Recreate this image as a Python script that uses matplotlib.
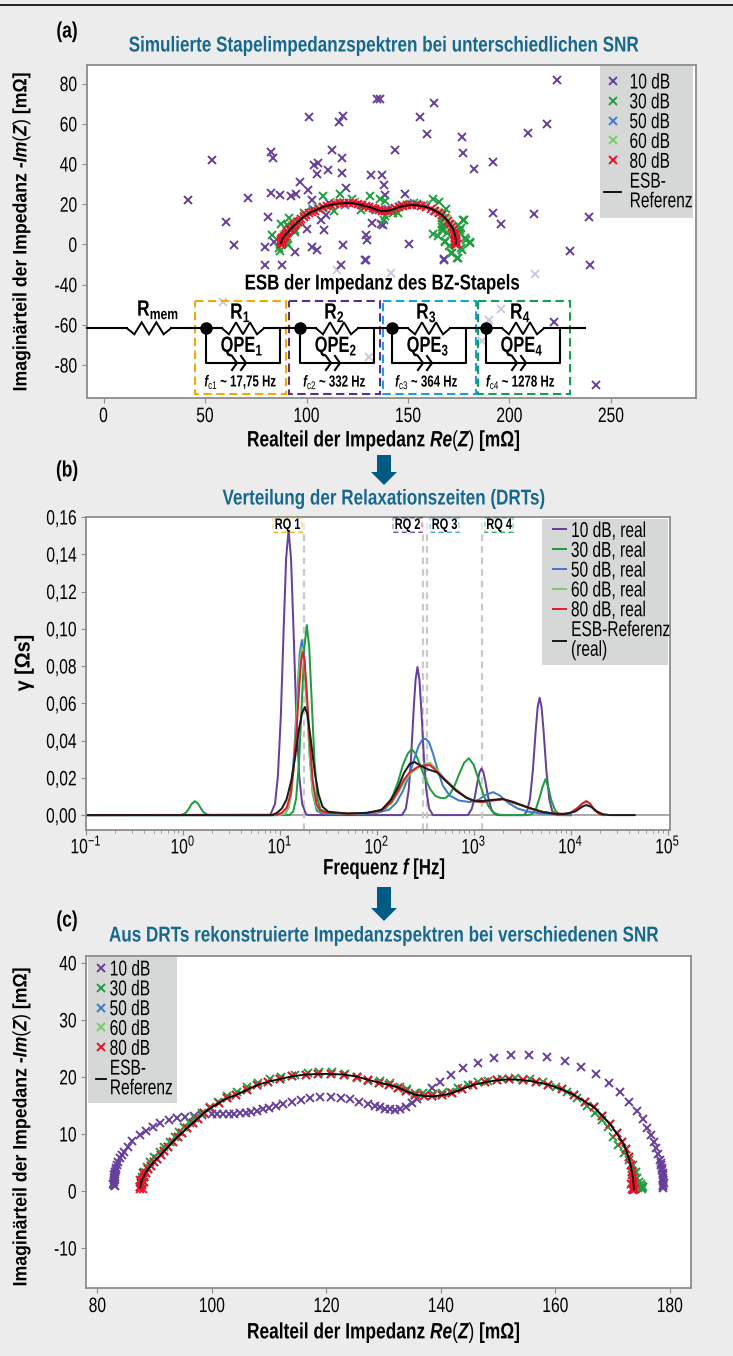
"""
    DRT / Impedanz Abbildung mit drei Panels.
"""
import numpy as np
import matplotlib
matplotlib.use('Agg')
import matplotlib.pyplot as plt
from matplotlib.patches import Rectangle, Polygon
from matplotlib.patheffects import AbstractPathEffect
from matplotlib.transforms import Affine2D

FONT = 'Liberation Sans'
plt.rcParams['font.family'] = [FONT, 'DejaVu Sans']
plt.rcParams['mathtext.fontset'] = 'custom'
plt.rcParams['mathtext.rm'] = FONT
plt.rcParams['mathtext.it'] = FONT + ':italic:bold'
plt.rcParams['mathtext.bf'] = FONT + ':bold'

W, H = 733, 1356
BG = '#ececec'
C10, C30, C50, C60, C80 = '#67409b', '#1f9e3e', '#3e7cc9', '#7cc96a', '#e8142a'
TEAL = '#16688f'
ARROW = '#005b84'
GRAY_BOX = '#d6d8d7'
SPINE = '#8c8c8c'

# panel (a), 10 dB raw points
re_a_10 = [41.6, 53.4, 60.5, 64.4, 71, 79.4, 79.4, 87.7, 80.8, 82.4, 87, 92.3, 94.6, 82.6, 83.3, 96.7, 100.6, 102.9,
           101.2, 118, 116.2, 112.6, 117.4, 103.6, 105.9, 105, 110.5, 117.4, 119.7, 132, 137.4, 138, 138.9, 148.7,
           134.5, 136, 162.6, 155.8, 159.5, 176.4, 177, 182.3, 192, 143.6, 209.3, 218.3, 223.6, 192, 195.7, 212,
           239.2, 230, 239.7, 100.2, 108.4, 107.3, 109.8, 132.4, 136.5, 137.9, 129.2, 129.8, 118.1, 102.9, 105.2,
           94.4, 150.6, 167.6, 129.2, 117.2, 84, 128.9, 167.9, 221.7, 242.4]
im_a_10 = [22.2, 42, 11.4, -0.2, 22.9, -1.2, -10.3, -10.4, 13.6, 25.5, 24.5, 24.2, 25.2, 46, 42.8, 31, 27, 22,
           63.2, 63.8, 60.9, 46.9, 42.8, 39.3, 40.3, 34.8, 36.8, 35.7, 27.9, 34.7, 34.7, 29.4, 24.7, 25.2,
           72.5, 72.5, 70.5, 63.2, 55, 53.6, 45.6, 37.6, 41, 47, 55.6, 60, 82, 15.8, 10, 15,
           13.6, -3.2, -10, 7.6, 7.3, 12, 14.8, 10.8, 10.4, 9.6, 4.5, 2.3, -0.2, -1.2, -3,
           -3.8, 0.2, -7.5, -7.8, -10.1, 1, -7.8, -7.8, -38.6, -69.7]
re_a_10_faint = [114.8, 141.4, 212.7, 59, 196, 190, 131, 186.5]
im_a_10_faint = [-12.9, -14.4, -14.9, -28.7, -32.3, -37.8, -56, -47.8]

# panel (a), 30 dB raw points
re_a_30 = [108.2, 116.7, 122.5, 131.2, 136, 138.8, 145, 138.6, 138.1, 142.7, 151.2, 162.3, 165.3, 168.5, 166.9, 166.9,
           162.3, 164.6, 168, 171, 174.5, 176.1, 175.4, 177.3, 176.1, 180.7, 178.4, 170.4, 82.8, 86.5, 87, 87.4,
           90.2, 91.4, 90.9, 87.4, 94.4, 98.9, 103.1, 108.2, 113.3, 126.6, 154.2, 166.9, 168, 94.3, 90.2, 89.4,
           92.7, 95.2, 166.6, 169, 168.2, 171.5, 174.3, 176.5, 180.5, 178, 175.6, 177.7, 174.8]
im_a_30 = [24.2, 25, 22.7, 24.2, 22.6, 21.4, 15.6, 13.9, 12.3, 15.6, 20.2, 22.6, 21.1, 17.7, 10.3, 7.3,
           5.1, 4, 1.5, -4.3, -6.8, -1.8, 5.6, 12.3, 8.1, 0.7, 2, -1, 4.8, -1.8, -3.5, 10.3,
           9.8, 13.1, -0.2, 2.3, 7.3, 15.6, 17.2, 18.1, 16.4, 17.2, 20.2, 13.1, 9, 6.4, 0.6, 4.7,
           8.9, 11.3, 8.9, 5.6, 1.4, -4.1, -6.9, -2.7, 1.4, 3.1, 7.2, 12.2, 9.7]
re_a_50 = [90.5, 96, 103, 111, 119, 127, 134, 140, 147, 153, 158, 163, 167, 170, 172.5]
im_a_50 = [6.5, 11, 17.5, 20.6, 19.8, 19.8, 17, 17.4, 19.8, 20.8, 19.6, 16.5, 14.5, 10, 5]
re_a_60 = [89, 93, 99, 105, 115, 124, 131, 139, 146, 152, 159, 165, 169, 171, 173]
im_a_60 = [4.5, 9.7, 14.2, 18.6, 21, 20.9, 18, 17.6, 19.3, 20, 19.4, 16.1, 12.6, 9.5, 3.5]

# near noise-free spectrum, used for ESB and for 50/60/80 dB
re_esb = [87.47, 87.59, 87.76, 88.06, 88.41, 88.81, 89.28, 89.8, 90.38, 91.02, 91.66, 92.36, 93.12, 94, 94.81, 95.63,
          96.62, 97.49, 98.53, 99.7, 101.15, 102.6, 104.24, 106.1, 107.96, 109.88, 111.92, 114.07, 116.4, 118.61,
          120.82, 123.1, 125.3, 127.34, 129.2, 130.95, 132.58, 133.92, 135.49, 137.06, 138.52, 140.15, 141.89,
          143.76, 145.68, 147.65, 149.75, 151.96, 154.29, 156.62, 158.77, 161.1, 163.25, 165.17, 166.75, 168.2,
          169.54, 170.7, 171.69, 172.33, 172.8, 173.15, 173.38, 173.56, 173.67, 173.73]
im_esb = [0.64, 1.35, 1.93, 2.51, 3.22, 3.8, 4.39, 5.03, 5.67, 6.32, 7.02, 7.78, 8.6, 9.53, 10.23, 11.05,
          11.87, 12.69, 13.63, 14.5, 15.38, 16.26, 16.84, 17.72, 18.6, 19.18, 19.65, 20.12, 20.41, 20.53,
          20.53, 20.41, 20.06, 19.47, 19.0, 18.6, 18.13, 17.49, 16.9, 16.67, 16.61, 16.78, 17.13,
          17.89, 18.6, 19.06, 19.42, 19.59, 19.47, 19.12, 18.65, 17.84, 16.84, 15.67, 14.68, 13.22,
          11.75, 10.12, 8.65, 7.37, 5.91, 4.56, 3.39, 2.22, 1.05, 0.3]
# extra 80 dB points piled up at both ends of the arc
re_80_ends = [87.5, 87.9, 87.7, 88.1, 87.5, 88, 173.9, 173.4, 173.7, 173.45, 173.3, 173.6]
im_80_ends = [0.3, 0.4, 1, 1.5, 2, 3.2, 0.4, 0.4, 1.6, 2.8, 1.2, 0.2]

# panel (c), reconstructed spectra
re_c_10 = [82.82, 82.82, 82.88, 82.93, 83.05, 83.17, 83.34, 83.57, 83.86, 84.21, 84.68, 85.32, 86.02, 87.47, 88.46,
           89.63, 90.97, 92.42, 93.88, 95.33, 96.79, 98.24, 99.99, 100.9, 101.9, 102.9, 103.9, 104.9, 105.93, 106.9,
           107.85, 108.9, 109.89, 111.17, 112.5, 113.96, 115.53, 117.16, 118.91, 120.77, 122.5, 124.15, 125.7, 127.2,
           128.5, 129.4, 130.26, 131.13, 132, 132.87, 133.92, 134.9, 135.9, 138.4, 139.9, 141.83, 143.93, 146.55,
           149.34, 152.25, 155.45, 158.6, 161.68, 164.48, 167.1, 169.37, 171.23, 172.86, 174.2, 175.3, 176.06, 176.7,
           177.22, 177.63, 177.98, 178.27, 178.5, 178.68, 178.74, 178.8, 178.85, 178.87,
           82.8, 83, 82.9, 83.1, 83, 83.2, 178.8, 178.9, 178.8, 178.75, 178.6, 178.4]
im_c_10 = [1.05, 1.64, 2.22, 2.81, 3.39, 3.98, 4.56, 5.15, 5.73, 6.32, 6.9, 7.78, 8.83, 9.82, 10.58,
           11.29, 11.99, 12.46, 12.75, 13.04, 13.22, 13.39, 13.57, 13.57, 13.57, 13.57, 13.57, 13.6, 13.63, 13.8,
           14.04, 14.3, 14.5, 14.91, 15.26, 15.61, 15.96, 16.26, 16.49, 16.55, 16.37, 16.14, 15.67, 15.32,
           14.97, 14.68, 14.44, 14.33, 14.27, 14.33, 14.68, 15.38, 16.14, 18.13, 19.18, 20.35, 21.52, 22.51,
           23.33, 23.8, 23.92, 23.57, 22.87, 21.75, 20.47, 18.95, 17.43, 15.67, 14.09, 12.63, 11.11, 9.82,
           8.65, 7.49, 6.49, 5.44, 4.56, 3.68, 2.81, 1.93, 1.05, 0.5,
           1.3, 0.9, 1.9, 2.5, 3, 3.6, 0.8, 1.4, 2.3, 3.2, 4.1, 5]
re_c_30 = [87.47, 87.59, 87.82, 88.17, 88.64, 89.22, 89.92, 90.85, 91.66, 92.6, 93.47, 94.28, 95.16, 96.09, 97.08, 98.24,
           99.7, 101.04, 102.6, 104.35, 106.2, 108.03, 110.18, 112.1, 114.43, 116.7, 118.79, 121.06, 123.27, 125.3,
           127.34, 129.38, 131.13, 132.87, 134.03, 135.49, 136.94, 138.69, 140.15, 141.6, 143.06, 144.8, 146.4, 148.3,
           150.6, 152.95, 155.57, 157.9, 160.2, 162, 163.7, 165.5, 166.9, 168.1, 169.25, 170.1, 171, 172, 172.9,
           173.6, 174.08, 174.66, 175.1, 175.2, 174.3, 174.9, 175.4, 174.1, 174.5, 173.9, 175.2]
im_c_30 = [0.7, 1.64, 2.51, 3.39, 4.27, 5.15, 5.91, 6.9, 7.78, 8.65, 9.53, 10.41, 11.17, 11.99, 12.75, 13.63,
           14.8, 15.67, 16.73, 17.43, 18.3, 18.89, 19.59, 20.06, 20.35, 20.64, 20.82, 20.88, 20.47, 19.88,
           19.36, 19.36, 18.89, 18.3, 17.89, 17.25, 17.25, 16.96, 17.13, 17.43, 18.13, 18.54, 19.06, 19.35,
           19.59, 19.82, 19.65, 19.06, 18.3, 17.43, 16.26, 14.9, 13.63, 12.45, 11.17, 9.53, 8.07, 6.6, 5.44,
           4.56, 3.39, 1.64, 0.47, 0.9, 2.2, 1.3, 0.76, 1.3, 0.47, 3.1, 0.3]

# panel (b), DRTs
logf_10 = [-1, 0.9, 0.95, 0.98, 1.01, 1.04, 1.065, 1.09, 1.115, 1.14, 1.17, 1.2, 1.23, 1.27, 1.3, 2.26, 2.3, 2.33,
           2.355, 2.38, 2.4, 2.42, 2.44, 2.46, 2.485, 2.51, 2.54, 2.58, 2.94, 2.95, 2.98, 3.01, 3.04, 3.06, 3.08,
           3.1, 3.12, 3.15, 3.18, 3.21, 3.25, 3.52, 3.55, 3.58, 3.61, 3.64, 3.66, 3.68, 3.7, 3.72, 3.75, 3.78, 3.81, 3.86, 4.0]
gamma_10 = [0, 0, 0.006, 0.021, 0.053, 0.101, 0.138, 0.153, 0.138, 0.101, 0.053, 0.021, 0.006, 0.0005, 0, 0, 0.0035, 0.0137,
            0.0318, 0.0563, 0.0726, 0.0795, 0.0726, 0.0563, 0.0318, 0.0137, 0.0035, 0, 0, 0.0009, 0.0034, 0.0094, 0.0181, 0.023, 0.025,
            0.023, 0.0181, 0.0094, 0.0034, 0.0009, 0, 0, 0.0021, 0.0085, 0.0237, 0.0457, 0.058, 0.063, 0.058, 0.0457, 0.0237, 0.0085, 0.0021, 0, 0]
logf_30 = [-1, -0.02, 0.0, 0.03, 0.06, 0.09, 0.124, 0.155, 0.185, 0.215, 0.25, 0.28, 1.1, 1.138, 1.168, 1.198, 1.228, 1.253,
           1.278, 1.303, 1.328, 1.358, 1.388, 1.418, 1.5, 1.7, 1.9, 2.0, 2.1, 2.17, 2.22, 2.27, 2.32, 2.36, 2.4, 2.45, 2.5,
           2.55, 2.6, 2.65, 2.7, 2.75, 2.8, 2.85, 2.9, 2.95, 3.0, 3.05, 3.1, 3.15, 3.2, 3.25, 3.3, 3.55, 3.6, 3.64, 3.68,
           3.71, 3.74, 3.77, 3.8, 3.84, 3.88, 3.92, 4.0]
gamma_30 = [0, 0, 0.0003, 0.0013, 0.0033, 0.006, 0.0075, 0.0062, 0.0036, 0.0014, 0.0003, 0, 0, 0.002, 0.009, 0.0283, 0.0619, 0.09,
            0.102, 0.09, 0.0619, 0.0283, 0.009, 0.003, 0.0012, 0.0006, 0.001, 0.002, 0.004, 0.011, 0.018, 0.027, 0.033, 0.0354, 0.033, 0.0265, 0.0195,
            0.014, 0.0105, 0.0093, 0.009, 0.0108, 0.0155, 0.022, 0.028, 0.0305, 0.027, 0.019, 0.011, 0.005, 0.0015, 0.0003, 0, 0, 0.0005, 0.003, 0.0095,
            0.015, 0.0193, 0.015, 0.008, 0.0025, 0.0003, 0, 0]
logf_50 = [-1, 0.97, 1.05, 1.09, 1.12, 1.15, 1.18, 1.205, 1.227, 1.25, 1.28, 1.31, 1.34, 1.38, 1.42, 1.5, 1.8, 2.0, 2.13, 2.2,
           2.27, 2.33, 2.38, 2.43, 2.47, 2.505, 2.54, 2.58, 2.63, 2.68, 2.75, 2.85, 2.96, 3.05, 3.12, 3.2, 3.27, 3.35, 3.45,
           3.55, 3.7, 3.9, 4.0]
gamma_50 = [0, 0, 0.0005, 0.0042, 0.0142, 0.0353, 0.0652, 0.0868, 0.094, 0.0856, 0.0595, 0.0304, 0.0113, 0.0025, 0.0012, 0.0008, 0.0006, 0.0012, 0.003, 0.0065,
            0.013, 0.021, 0.029, 0.037, 0.0405, 0.041, 0.039, 0.033, 0.024, 0.016, 0.0105, 0.0078, 0.007, 0.0082, 0.0108, 0.0123, 0.0105, 0.0068, 0.0036,
            0.002, 0.0008, 0.0003, 0]
logf_60 = [-1, 0.97, 1.05, 1.09, 1.12, 1.15, 1.18, 1.205, 1.227, 1.25, 1.28, 1.31, 1.34, 1.38, 1.42, 1.5, 1.8, 2.0, 2.15, 2.22,
           2.28, 2.34, 2.42, 2.5, 2.55, 2.62, 2.7, 2.82, 2.92, 3.0, 3.08, 3.18, 3.3, 3.4, 3.5, 3.58, 3.7, 3.82, 3.92, 4.0,
           4.07, 4.12, 4.16, 4.2, 4.25, 4.3, 4.34]
gamma_60 = [0, 0, 0.0006, 0.0038, 0.012, 0.031, 0.06, 0.082, 0.09, 0.083, 0.058, 0.03, 0.012, 0.004, 0.0018, 0.001, 0.0008, 0.0016, 0.0062, 0.012,
            0.0175, 0.022, 0.0252, 0.0275, 0.028, 0.0245, 0.0195, 0.0135, 0.0095, 0.0075, 0.007, 0.0077, 0.0086, 0.0068, 0.0052, 0.0036, 0.0018, 0.0008, 0.0006, 0.0012,
            0.0036, 0.006, 0.0072, 0.006, 0.0025, 0.0005, 0]
logf_80 = [-1, 0.97, 1.02, 1.07, 1.11, 1.14, 1.17, 1.2, 1.22, 1.237, 1.255, 1.28, 1.31, 1.34, 1.38, 1.42, 1.5, 1.7, 1.9, 2.05,
           2.15, 2.22, 2.28, 2.34, 2.42, 2.5, 2.55, 2.62, 2.7, 2.82, 2.92, 3.0, 3.08, 3.18, 3.3, 3.4, 3.5, 3.58, 3.7, 3.82,
           3.92, 4.0, 4.07, 4.12, 4.16, 4.2, 4.25, 4.3, 4.34]
gamma_80 = [0, 0.0002, 0.0012, 0.004, 0.011, 0.024, 0.044, 0.069, 0.083, 0.0875, 0.083, 0.064, 0.038, 0.018, 0.0058, 0.0022, 0.0012, 0.0008, 0.0012, 0.0025,
            0.007, 0.013, 0.019, 0.023, 0.0258, 0.0268, 0.0268, 0.0235, 0.019, 0.0135, 0.0095, 0.0075, 0.007, 0.0077, 0.0086, 0.0068, 0.0052, 0.0036, 0.0018, 0.0008,
            0.0006, 0.0012, 0.0038, 0.0062, 0.0075, 0.0062, 0.0025, 0.0005, 0]
logf_esb = [-1, 0.92, 0.97, 1.02, 1.07, 1.12, 1.16, 1.2, 1.23, 1.258, 1.285, 1.32, 1.36, 1.4, 1.44, 1.5, 1.7, 1.9, 2.05, 2.15,
            2.22, 2.28, 2.34, 2.39, 2.45, 2.53, 2.62, 2.7, 2.82, 2.92, 3.01, 3.1, 3.2, 3.3, 3.4, 3.5, 3.58, 3.7, 3.82, 3.95,
            4.05, 4.12, 4.16, 4.21, 4.27, 4.33, 4.4, 4.66]
gamma_esb = [0, 0, 0.0012, 0.0035, 0.0085, 0.019, 0.032, 0.047, 0.055, 0.058, 0.054, 0.04, 0.023, 0.011, 0.0045, 0.0018, 0.0008, 0.0012, 0.0028, 0.0085,
             0.015, 0.0225, 0.0275, 0.0285, 0.0265, 0.0245, 0.023, 0.019, 0.013, 0.0095, 0.0075, 0.0076, 0.0082, 0.0086, 0.0072, 0.0052, 0.0038, 0.0018, 0.0008, 0.0006,
             0.002, 0.0045, 0.0054, 0.0045, 0.002, 0.0005, 0, 0]
vline_f = [17.75, 300, 330, 1220]

xticks_a = [0, 50, 100, 150, 200, 250]
yticks_a = [80, 60, 40, 20, 0, -20, -40, -60]
ylabels_a = ['80', '60', '40', '20', '0', '-40', '-60', '-80']
xticks_b = [0.1, 1, 10, 100, 1000, 10000, 100000]
xlabels_b = ['$\\mathdefault{10^{-1}}$', '$\\mathdefault{10^{0}}$', '$\\mathdefault{10^{1}}$', '$\\mathdefault{10^{2}}$',
             '$\\mathdefault{10^{3}}$', '$\\mathdefault{10^{4}}$', '$\\mathdefault{10^{5}}$']
yticks_b = [0, 0.02, 0.04, 0.06, 0.08, 0.10, 0.12, 0.14, 0.16]
ylabels_b = ['0,00', '0,02', '0,04', '0,06', '0,08', '0,10', '0,12', '0,14', '0,16']
xticks_c = [80, 100, 120, 140, 160, 180]
yticks_c = [40, 30, 20, 10, 0, -10]
ylabels_c = ['40', '30', '20', '10', '0', '-10']


class Squeeze(AbstractPathEffect):
    # no condensed face is installed, so narrow the glyph outlines of the text
    def __init__(self, sx, anchor='center'):
        super().__init__()
        self.sx = sx
        self.anchor = anchor

    def draw_path(self, renderer, gc, tpath, affine, rgbFace=None):
        ext = tpath.get_extents()
        ref = {'left': ext.x0, 'center': (ext.x0 + ext.x1) / 2, 'right': ext.x1}[self.anchor]
        local = Affine2D().translate(-ref, 0).scale(self.sx, 1).translate(ref, 0)
        renderer.draw_path(gc, tpath, local + affine, rgbFace)


fig = plt.figure(figsize=(W / 100, H / 100), dpi=100, facecolor=BG)


def make_ax(l, t, r, b):
    ax = fig.add_axes([l / W, 1 - b / H, (r - l) / W, (b - t) / H])
    for s in ax.spines.values():
        s.set_color(SPINE)
        s.set_linewidth(1.3)
    ax.tick_params(axis='both', which='major', labelsize=15, length=3.5, color=SPINE, pad=3)
    ax.tick_params(axis='both', which='minor', length=2, color=SPINE)
    return ax


def squeeze_ticks(ax, sx=0.75):
    for lab in ax.get_xticklabels():
        lab.set_path_effects([Squeeze(sx, 'center')])
    for lab in ax.get_yticklabels():
        lab.set_path_effects([Squeeze(sx, 'right')])


ax_a = make_ax(86.5, 64.5, 696, 398)
ax_b = make_ax(86, 517, 669.5, 830)
ax_c = make_ax(86, 956, 691, 1288)

# overlay in picture pixels for titles, circuit and legend boxes
ov = fig.add_axes([0, 0, 1, 1], zorder=10)
ov.set_xlim(0, W)
ov.set_ylim(H, 0)
ov.axis('off')


def label(x, y, txt, size, sx=0.78, weight='bold', **kw):
    kw.setdefault('ha', 'center')
    kw.setdefault('va', 'center')
    t = ov.text(x, y, txt, fontsize=size, fontweight=weight, **kw)
    t.set_path_effects([Squeeze(sx, 'center')])
    return t


mk = dict(ls='none', marker='x', ms=5.2, mew=1.4)

# panel a
ax_a.plot(re_a_10, im_a_10, color=C10, label='10 dB', **mk)
ax_a.plot(re_a_10_faint, im_a_10_faint, color=C10, alpha=0.3, **mk)
ax_a.plot(re_a_30, im_a_30, color=C30, label='30 dB', **mk)
ax_a.plot(re_a_50, im_a_50, color=C50, label='50 dB', **mk)
ax_a.plot(re_a_60, im_a_60, color=C60, label='60 dB', **mk)
ax_a.plot(re_esb, im_esb, color=C80, label='80 dB', **mk)
ax_a.plot(re_80_ends, im_80_ends, color=C80, **mk)
ax_a.plot(re_esb, im_esb, color='black', lw=1.3, label='ESB-\nReferenz')
ax_a.set_xlim(-8.4, 291.9)
ax_a.set_ylim(-76.4, 89.5)
ax_a.set_xticks(xticks_a)
ax_a.set_yticks(yticks_a)
ax_a.set_yticklabels(ylabels_a)
squeeze_ticks(ax_a)

# panel b
ax_b.axhline(0, color='#9a9a9a', lw=1.2, zorder=1)
for f in vline_f:
    ax_b.axvline(f, color='#c9c9c9', lw=1.6, ls=(0, (3, 2.2)), zorder=1)
ax_b.plot(np.power(10.0, logf_10), gamma_10, color=C10, lw=1.45, label='10 dB, real')
ax_b.plot(np.power(10.0, logf_30), gamma_30, color=C30, lw=1.45, label='30 dB, real')
ax_b.plot(np.power(10.0, logf_50), gamma_50, color=C50, lw=1.45, label='50 dB, real')
ax_b.plot(np.power(10.0, logf_60), gamma_60, color=C60, lw=1.45, label='60 dB, real')
ax_b.plot(np.power(10.0, logf_80), gamma_80, color='#dc2030', lw=1.45, label='80 dB, real')
ax_b.plot(np.power(10.0, logf_esb), gamma_esb, color='#1c1c1c', lw=1.45, label='ESB-Referenz\n(real)')
ax_b.set_xscale('log')
ax_b.set_xlim(0.1, 10 ** 5.02)
ax_b.set_ylim(-0.008, 0.16)
ax_b.set_xticks(xticks_b)
ax_b.set_xticklabels(xlabels_b)
ax_b.set_yticks(yticks_b)
ax_b.set_yticklabels(ylabels_b)
ax_b.tick_params(axis='x', which='major', pad=0.5)
squeeze_ticks(ax_b)

# panel c
ax_c.plot(re_c_10, im_c_10, color=C10, label='10 dB', **mk)
ax_c.plot(re_c_30, im_c_30, color=C30, label='30 dB', **mk)
ax_c.plot(re_esb, im_esb, color=C50, label='50 dB', **mk)
ax_c.plot(re_esb, im_esb, color=C60, label='60 dB', **mk)
ax_c.plot(re_esb, im_esb, color=C80, label='80 dB', **mk)
ax_c.plot(re_80_ends, im_80_ends, color=C80, **mk)
ax_c.plot(re_esb, im_esb, color='black', lw=1.3, label='ESB-\nReferenz')
ax_c.set_xlim(78, 183.7)
ax_c.set_ylim(-17, 41.2)
ax_c.set_xticks(xticks_c)
ax_c.set_yticks(yticks_c)
ax_c.set_yticklabels(ylabels_c)
squeeze_ticks(ax_c)


# legends on a grey box
def grey_legend(ax, box, anchor, **kw):
    l, t, r, b = box
    ax.add_patch(Rectangle((l, t), r - l, b - t, transform=ov.transData, color=GRAY_BOX, lw=0, zorder=5, clip_on=False))
    leg = ax.legend(loc='upper left', bbox_to_anchor=(anchor[0] / W, 1 - anchor[1] / H), bbox_transform=fig.transFigure,
                    frameon=False, fontsize=15.5, borderpad=0, borderaxespad=0, labelspacing=-0.055, **kw)
    leg.set_zorder(6)
    for t_ in leg.get_texts():
        t_.set_linespacing(0.92)
        t_.set_path_effects([Squeeze(0.72, 'left')])


grey_legend(ax_a, (600, 66, 693, 218), (604, 72.5), handlelength=0.8, handletextpad=0.37)
grey_legend(ax_b, (542, 518.5, 668, 665), (553, 521), handlelength=0.6, handletextpad=0.22)
grey_legend(ax_c, (87.5, 957, 177, 1103), (96, 959.5), handlelength=0.47, handletextpad=0.15)

# titles and labels
label(384, 46, 'Simulierte Stapelimpedanzspektren bei unterschiedlichen SNR', 15.5, sx=0.794, color=TEAL)
label(384, 499, 'Verteilung der Relaxationszeiten (DRTs)', 15.5, sx=0.794, color=TEAL)
label(384, 936, 'Aus DRTs rekonstruierte Impedanzspektren bei verschiedenen SNR', 15.5, sx=0.794, color=TEAL)
label(67, 32, '(a)', 16)
label(67, 471, '(b)', 16)
label(67, 921, '(c)', 16)
xlab = 'Realteil der Impedanz $\\mathit{Re(Z)}$ [mΩ]'
label(384, 441, xlab, 16)
label(384, 1333, xlab, 16)
label(384.5, 869, 'Frequenz $\\mathit{f}$ [Hz]', 16, sx=0.76)
ylab = 'Imaginärteil der Impedanz -$\\mathit{Im(Z)}$ [mΩ]'
label(22, 231, ylab, 14, sx=0.91, rotation=90)
label(22, 1126, ylab, 14, sx=0.91, rotation=90)
label(24, 663, 'γ [Ωs]', 15, sx=0.95, rotation=90)

# arrows between panels
for top, neck, tip in [(455, 472, 485), (887, 908, 921)]:
    ov.add_patch(Polygon([(377, top), (391, top), (391, neck), (397, neck), (384, tip), (371, neck), (377, neck)],
                         closed=True, color=ARROW, lw=0))

# top rule
ov.plot([0, W], [4.5, 4.5], color='black', lw=1.2)


# circuit drawing
def zigzag(x0, x1, y, amp):
    xs = np.linspace(x0, x1, 7)
    ys = [y, y + amp, y - amp, y + amp, y - amp, y + amp, y]
    ov.plot(xs, ys, color='black', lw=1.4, solid_joinstyle='miter')


WIRE = 328.3
label(382, 284, 'ESB der Impedanz des BZ-Stapels', 15.5, sx=0.785)
ov.plot([87, 127], [WIRE, WIRE], color='black', lw=1.5)
zigzag(127, 171, WIRE, 6)
label(158, 310, '$\\mathbf{R_{mem}}$', 16, sx=0.78)
ov.plot([171, 222], [WIRE, WIRE], color='black', lw=1.5)
stages = [(206, '#f2a900', (195, 286), '1', '17,75'),
          (300, '#5b2d8c', (289, 380), '2', '332'),
          (392, '#18a0d8', (383, 475.5), '3', '364'),
          (486, '#13a04a', (478, 569.5), '4', '1278')]
for dot, col, (bl, br), n, fc in stages:
    ov.add_patch(Rectangle((bl, 301), br - bl, 93, fill=False, ec=col, lw=1.5, ls=(0, (4, 2.2))))
    ov.plot([dot, dot + 16], [WIRE, WIRE], color='black', lw=1.5)
    zigzag(dot + 16, dot + 58, WIRE, 6)
    ov.plot([dot + 58, dot + 94 if n != '4' else 585], [WIRE, WIRE], color='black', lw=1.5)
    ov.plot([dot, dot, dot + 73.5, dot + 73.5], [WIRE, 363, 363, WIRE], color='black', lw=1.5)
    ov.plot([dot + 26, dot + 31, dot + 26], [356, 363, 370], color='black', lw=1.5)
    ov.plot([dot + 35, dot + 40, dot + 35], [356, 363, 370], color='black', lw=1.5)
    ov.plot([dot], [WIRE], marker='o', ms=8, color='black')
    label(dot + 34.5, 313, '$\\mathbf{R_%s}$' % n, 16, sx=0.78)
    label(dot + 36, 347, '$\\mathbf{QPE_%s}$' % n, 16, sx=0.74)
    label(dot + 35, 382, '$\\mathit{f}_{\\mathrm{c%s}}$ ~ %s Hz' % (n, fc), 11.5, sx=0.72)

# RQ labels in panel b
for l, r, col, n in [(273, 302, '#f2a900', '1'), (393, 422, '#5b2d8c', '2'), (430, 459, '#18a0d8', '3'),
                     (485, 513, '#13a04a', '4')]:
    ov.add_patch(Rectangle((l, 518), r - l, 13.5, fill=False, ec=col, lw=1.2, ls=(0, (3, 2))))
    label((l + r) / 2, 525, 'RQ ' + n, 11, sx=0.72,
          bbox=dict(fc='white', ec='none', pad=0.3, alpha=0.6))

fig.savefig('out.png', dpi=100, facecolor=BG)
